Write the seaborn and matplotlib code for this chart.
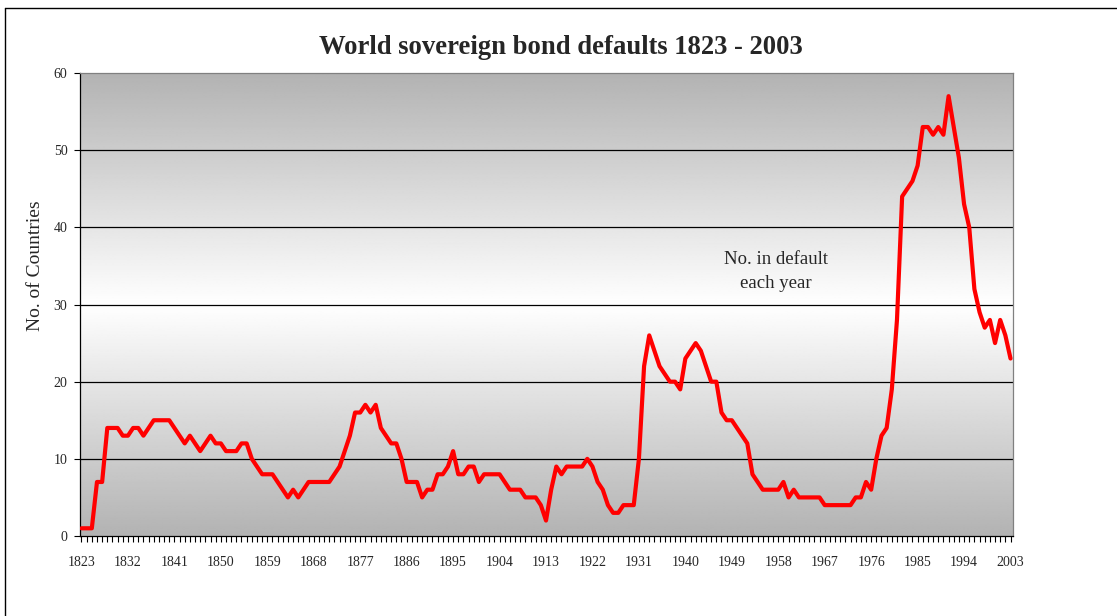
import numpy as np
import pandas as pd
import matplotlib
matplotlib.use("Agg")
import matplotlib.pyplot as plt
from matplotlib.lines import Line2D
import seaborn as sns

# Number of countries in default on sovereign bonds, one value per year
years = list(range(1823, 2004))
defaults = [
    1, 1, 1, 7, 7, 14, 14, 14, 13, 13,
    14, 14, 13, 14, 15, 15, 15, 15, 14, 13,
    12, 13, 12, 11, 12, 13, 12, 12, 11, 11,
    11, 12, 12, 10, 9, 8, 8, 8, 7, 6,
    5, 6, 5, 6, 7, 7, 7, 7, 7, 8,
    9, 11, 13, 16, 16, 17, 16, 17, 14, 13,
    12, 12, 10, 7, 7, 7, 5, 6, 6, 8,
    8, 9, 11, 8, 8, 9, 9, 7, 8, 8,
    8, 8, 7, 6, 6, 6, 5, 5, 5, 4,
    2, 6, 9, 8, 9, 9, 9, 9, 10, 9,
    7, 6, 4, 3, 3, 4, 4, 4, 10, 22,
    26, 24, 22, 21, 20, 20, 19, 23, 24, 25,
    24, 22, 20, 20, 16, 15, 15, 14, 13, 12,
    8, 7, 6, 6, 6, 6, 7, 5, 6, 5,
    5, 5, 5, 5, 4, 4, 4, 4, 4, 4,
    5, 5, 7, 6, 10, 13, 14, 19, 28, 44,
    45, 46, 48, 53, 53, 52, 53, 52, 57, 53,
    49, 43, 40, 32, 29, 27, 28, 25, 28, 26, 23,
]
tick_years = list(range(1823, 2004, 9))
y_ticks = [0, 10, 20, 30, 40, 50, 60]

title = "World sovereign bond defaults 1823 - 2003"
y_label = "No. of Countries"
note = "No. in default\neach year"

df = pd.DataFrame({"year": years, "countries": defaults})

sns.set_style("white")
plt.rcParams["font.family"] = ["Liberation Serif", "DejaVu Serif"]

W, H = 1117, 616
fig = plt.figure(figsize=(W / 100, H / 100), dpi=100)
fig.patch.set_facecolor("white")

# plot area in pixels: left 80, right 1013, top 73, bottom 536
ax = fig.add_axes([80 / W, (H - 536) / H, 933 / W, 463 / H])
ax.patch.set_visible(False)

x0, x1 = 1822.71, 2003.48
y0, y1 = 0, 60
ax.set_xlim(x0, x1)
ax.set_ylim(y0, y1)

# vertical grey-white-grey background fill
v = np.linspace(y1, y0, 400)
shade = 0.70 + 0.30 * (1 - np.abs(v - 30) / 30)
grad = np.repeat(shade[:, None], 2, axis=1)
ax.imshow(grad, cmap="gray", vmin=0, vmax=1, extent=[x0, x1, y0, y1],
          aspect="auto", zorder=-10, interpolation="bilinear")

for g in y_ticks[1:-1]:
    ax.axhline(g, color="black", lw=0.9, zorder=1)

sns.lineplot(data=df, x="year", y="countries", color="#ff0000", lw=3,
             ax=ax, zorder=3)

ax.set_xticks(tick_years)
ax.set_xticklabels([str(t) for t in tick_years])
ax.set_xticks(years, minor=True)
ax.set_yticks(y_ticks)
ax.tick_params(axis="x", which="both", direction="out", length=4, width=0.8,
               color="black", labelsize=10, pad=10.5, bottom=True)
ax.tick_params(axis="y", which="major", direction="out", length=4, width=0.8,
               color="black", labelsize=10, pad=5, left=True)

for side in ("left", "bottom"):
    ax.spines[side].set_color("black")
    ax.spines[side].set_linewidth(0.9)
for side in ("top", "right"):
    ax.spines[side].set_color("#808080")
    ax.spines[side].set_linewidth(0.9)

ax.set_xlabel("")
ax.set_ylabel(y_label, fontsize=14)
ax.yaxis.label.set_va("center")
ax.yaxis.set_label_coords((35 - 80) / 933, (536 - 266) / 463)

ax.text(1957.6, 34.3, note, ha="center", va="center", fontsize=13.5,
        linespacing=1.55, zorder=4)

fig.text(561 / W, 1 - 47 / H, title, ha="center", va="center",
         fontsize=19.2, fontweight="bold")

# chart frame
frame_kw = dict(color="black", lw=1, transform=fig.transFigure)
fig.add_artist(Line2D([5 / W, 1.0], [1 - 8 / H, 1 - 8 / H], **frame_kw))
fig.add_artist(Line2D([5 / W, 5 / W], [1 - 8 / H, 0], **frame_kw))

fig.savefig("out.png", dpi=100)
